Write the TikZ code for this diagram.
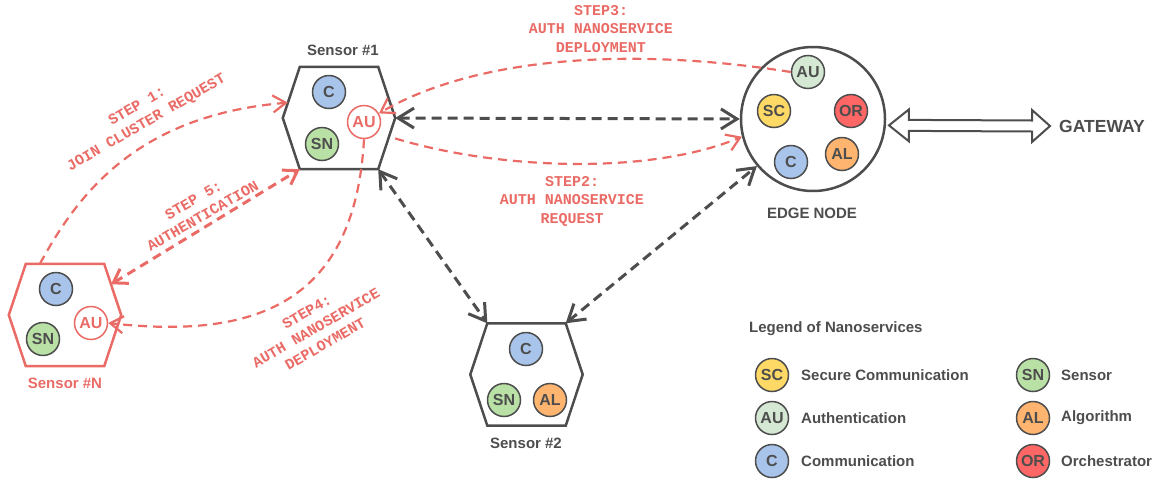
\documentclass[tikz,border=0pt]{standalone}
\usepackage{fontspec}
\setsansfont{Liberation Sans}
\setmonofont{Liberation Mono}
\usetikzlibrary{arrows.meta,calc}

\definecolor{ink}{HTML}{4D4D4D}
\definecolor{redl}{HTML}{EA6B66}
\definecolor{cC}{HTML}{A9C4EB}
\definecolor{cSN}{HTML}{B9E0A5}
\definecolor{cAL}{HTML}{FFB570}
\definecolor{cOR}{HTML}{FF6666}
\definecolor{cSC}{HTML}{FFD966}
\definecolor{cAU}{HTML}{D5E8D4}

\tikzset{
  svc/.style={circle, draw=ink, line width=1.5pt, minimum size=33pt, inner sep=0pt,
    font=\sffamily\bfseries\fontsize{16}{16}\selectfont, text=ink},
  svcred/.style={svc, draw=redl, fill=white, text=redl},
  hexbody/.style={rectangle, draw=none, minimum width=112pt, minimum height=102pt, inner sep=0pt},
  lbl/.style={font=\sffamily\bfseries\fontsize{15}{18}\selectfont, text=ink, inner sep=0pt},
  steptxt/.style={font=\ttfamily\bfseries\fontsize{15}{18.5}\selectfont, text=redl, align=center, inner sep=0pt},
  blk/.style={ink, line width=3pt, dash pattern=on 10pt off 6pt,
    >={Straight Barb[length=16pt,width=20pt]}, <->},
  redarr/.style={redl, line width=2.2pt, dash pattern=on 9pt off 6pt,
    >={Straight Barb[length=13pt,width=17pt]}},
}

% hexagonal sensor outline around a named box
\newcommand\hexnode[3]{%
  \node[hexbody] (#1) at (#2) {};
  \coordinate (#1-nw) at ($(#1.north west)+(17,0)$);
  \coordinate (#1-ne) at ($(#1.north east)+(-17,0)$);
  \coordinate (#1-se) at ($(#1.south east)+(-17,0)$);
  \coordinate (#1-sw) at ($(#1.south west)+(17,0)$);
  \draw[#3, line width=2.5pt, line join=miter]
    (#1-nw) -- (#1-ne) -- (#1.east) -- (#1-se) -- (#1-sw) -- (#1.west) -- cycle;
}

\begin{document}
\begin{tikzpicture}[x=1pt, y=-1pt]
\useasboundingbox (0,0) rectangle (1154,480);

% ---- Sensor #1
\hexnode{s1}{339,118}{ink}
\node[lbl] (s1lab) at (343,50) {Sensor \#1};
\node[svc, fill=cC] (s1c) at (329,92) {C};
\node[svc, fill=cSN] (s1sn) at (322,144) {SN};
\node[svcred] (s1au) at (364,122) {AU};

% ---- Sensor #N
\hexnode{sN}{65,315}{redl}
\node[lbl, text=redl] (sNlab) at (65,383) {Sensor \#N};
\node[svc, fill=cC] (sNc) at (56,289) {C};
\node[svc, fill=cSN] (sNsn) at (43,339) {SN};
\node[svcred] (sNau) at (91,323) {AU};

% ---- Sensor #2
\hexnode{s2}{526.5,374.5}{ink}
\node[lbl] (s2lab) at (526,443) {Sensor \#2};
\node[svc, fill=cC] (s2c) at (526,349) {C};
\node[svc, fill=cSN] (s2sn) at (504,400) {SN};
\node[svc, fill=cAL] (s2al) at (550,400) {AL};

% ---- Edge node
\node[circle, draw=ink, line width=2.5pt, minimum size=144pt, inner sep=0pt] (edge) at (813,119) {};
\node[lbl] (edgelab) at (812,213) {EDGE NODE};
\node[svc, fill=cAU] (eau) at (808,72) {AU};
\node[svc, fill=cSC] (esc) at (774,111) {SC};
\node[svc, fill=cOR] (eor) at (851,111) {OR};
\node[svc, fill=cAL] (eal) at (842,154) {AL};
\node[svc, fill=cC] (ec) at (791,162) {C};

% ---- Gateway
\node[lbl, font=\sffamily\bfseries\fontsize{17.5}{18}\selectfont] (gw) at (1102,126) {GATEWAY};
\coordinate (gL) at ($(edge.-5)+(3,0)$);
\coordinate (gR) at ($(gw.west)+(-9,0)$);
\draw[ink, line width=2pt, fill=white, line join=miter]
  (gL) -- ++(20,-16) -- ++(0,10.5) -- ($(gR)+(-18,-5.5)$) -- ++(0,-10.5) -- (gR)
  -- ++(-18,16) -- ++(0,-10.5) -- ($(gL)+(20,5.5)$) -- ++(0,10.5) -- cycle;

% ---- Links between devices
\draw[blk] (s1.east) -- (edge.west);
\draw[blk] (s1-se) -- (s2-nw);
\draw[blk] (s2-ne) -- (edge.220);

% ---- Protocol steps
\draw[redarr, ->] ($(sN-nw)!0.18!(sN-ne)$) .. controls (80,190) and (140,115) .. ($(s1.west)!0.3!(s1-nw)$);
\draw[redarr, <->, line width=3pt] ($(sN.east)!0.6!(sN-ne)$) -- (s1-sw);
\draw[redarr, ->] (s1au.south) .. controls (355,300) and (260,340) .. (sNau.east);
\draw[redarr, ->] (eau.west) .. controls (620,45) and (470,60) .. (s1au.30);
\draw[redarr, ->] (s1.-20) .. controls (500,170) and (650,175) .. (edge.194);

\node[steptxt, rotate=30] (t1) at (142,115) {STEP 1:\\JOIN CLUSTER REQUEST};
\node[steptxt, rotate=30] (t5) at (198,208) {STEP 5:\\AUTHENTICATION};
\node[steptxt, rotate=30] (t4) at (316,328) {STEP4:\\AUTH NANOSERVICE\\DEPLOYMENT};
\node[steptxt] (t3) at (601,29) {STEP3:\\AUTH NANOSERVICE\\DEPLOYMENT};
\node[steptxt] (t2) at (572,201) {STEP2:\\AUTH NANOSERVICE\\REQUEST};

% ---- Legend
\node[lbl, anchor=west] (legtitle) at (749,329) {Legend of Nanoservices};
\node[svc, fill=cSC] (lsc) at (772,375) {SC};
\node[svc, fill=cAU] (lau) at (772,418) {AU};
\node[svc, fill=cC] (lc) at (772,461) {C};
\node[svc, fill=cSN] (lsn) at (1033,375) {SN};
\node[svc, fill=cAL] (lal) at (1033,418) {AL};
\node[svc, fill=cOR] (lor) at (1033,461) {OR};
\node[lbl, anchor=west] (lsct) at (801,375) {Secure Communication};
\node[lbl, anchor=west] (laut) at (801,418) {Authentication};
\node[lbl, anchor=west] (lct) at (801,461) {Communication};
\node[lbl, anchor=west] (lsnt) at (1061,375) {Sensor};
\node[lbl, anchor=west] (lalt) at (1061,418) {Algorithm};
\node[lbl, anchor=west] (lort) at (1061,461) {Orchestrator};
\end{tikzpicture}
\end{document}
